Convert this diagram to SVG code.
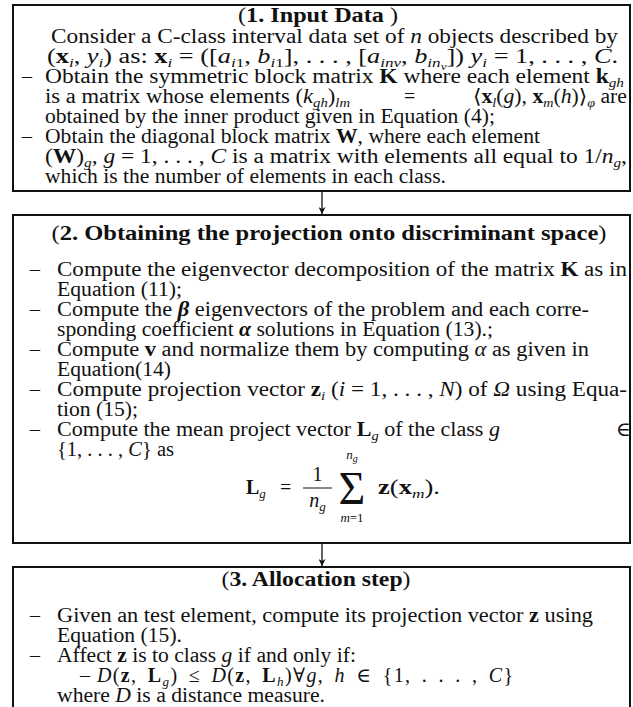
<svg xmlns="http://www.w3.org/2000/svg" width="633" height="707" viewBox="0 0 633 707">
<style>
.t{font-family:"Liberation Serif","DejaVu Serif",serif;font-size:20px;fill:#111}
.b{font-weight:bold}
.i{font-style:italic}
.s{font-size:13px;baseline-shift:-3.5px}
.ss{font-size:10px;baseline-shift:-3px}
.sm{font-size:13px}
.bx{fill:#fff;stroke:#111;stroke-width:2}
.c{stroke:#111;stroke-width:1.3;fill:none}
</style>
<defs>
<marker id="ah" viewBox="0 0 10 10" refX="10" refY="5" markerWidth="7" markerHeight="7" markerUnits="userSpaceOnUse" orient="auto">
<path d="M0,0 L10,5 L0,10 L3,5 Z" fill="#111"/>
</marker>
</defs>
<rect width="633" height="707" fill="#fff"/>

<g id="input-data">
<rect class="bx" x="13" y="5" width="617" height="186"/>
<text class="t" x="318" y="22" text-anchor="middle" textLength="160" lengthAdjust="spacingAndGlyphs">(<tspan class="b">1. Input Data</tspan> )</text>
<text class="t" x="51" y="43" textLength="567" lengthAdjust="spacingAndGlyphs">Consider a C-class interval data set of <tspan class="i">n</tspan> objects described by</text>
<text class="t" x="47" y="63" textLength="571" lengthAdjust="spacingAndGlyphs">(<tspan class="b">x</tspan><tspan class="s i">i</tspan>, <tspan class="i">y</tspan><tspan class="s i">i</tspan>) as: <tspan class="b">x</tspan><tspan class="s i">i</tspan> = ([<tspan class="i">a</tspan><tspan class="s"><tspan class="i">i</tspan>1</tspan>, <tspan class="i">b</tspan><tspan class="s"><tspan class="i">i</tspan>1</tspan>], . . . , [<tspan class="i">a</tspan><tspan class="s i">inv</tspan>, <tspan class="i">b</tspan><tspan class="s i">in<tspan class="ss">v</tspan></tspan>]) <tspan class="i">y</tspan><tspan class="s i">i</tspan> = 1, . . . , <tspan class="i">C</tspan>.</text>
<text class="t" x="22" y="83">–</text>
<text class="t" x="45" y="83" textLength="579" lengthAdjust="spacingAndGlyphs">Obtain the symmetric block matrix <tspan class="b">K</tspan> where each element <tspan class="b">k</tspan><tspan class="s i">gh</tspan></text>
<text class="t" x="45" y="103" textLength="305" lengthAdjust="spacingAndGlyphs">is a matrix whose elements (<tspan class="i">k</tspan><tspan class="s i">gh</tspan>)<tspan class="s i">lm</tspan></text>
<text class="t" x="404" y="103">=</text>
<text class="t" x="473" y="103" textLength="154" lengthAdjust="spacingAndGlyphs">⟨<tspan class="b">x</tspan><tspan class="s i">l</tspan>(<tspan class="i">g</tspan>), <tspan class="b">x</tspan><tspan class="s i">m</tspan>(<tspan class="i">h</tspan>)⟩<tspan class="s i">φ</tspan> are</text>
<text class="t" x="45" y="123" textLength="450" lengthAdjust="spacingAndGlyphs">obtained by the inner product given in Equation (4);</text>
<text class="t" x="22" y="143">–</text>
<text class="t" x="45" y="143" textLength="495" lengthAdjust="spacingAndGlyphs">Obtain the diagonal block matrix <tspan class="b">W</tspan>, where each element</text>
<text class="t" x="45" y="163" textLength="582" lengthAdjust="spacingAndGlyphs">(<tspan class="b">W</tspan>)<tspan class="s i">g</tspan>, <tspan class="i">g</tspan> = 1, . . . , <tspan class="i">C</tspan> is a matrix with elements all equal to 1/<tspan class="i">n</tspan><tspan class="s i">g</tspan>,</text>
<text class="t" x="45" y="183" textLength="401" lengthAdjust="spacingAndGlyphs">which is the number of elements in each class.</text>
</g>

<g id="projection">
<rect class="bx" x="13" y="215" width="617" height="328"/>
<text class="t" x="329" y="240" text-anchor="middle" textLength="555" lengthAdjust="spacingAndGlyphs">(<tspan class="b">2. Obtaining the projection onto discriminant space</tspan>)</text>
<text class="t" x="30" y="276">–</text>
<text class="t" x="57" y="276" textLength="570" lengthAdjust="spacingAndGlyphs">Compute the eigenvector decomposition of the matrix <tspan class="b">K</tspan> as in</text>
<text class="t" x="57" y="296" textLength="125" lengthAdjust="spacingAndGlyphs">Equation (11);</text>
<text class="t" x="30" y="316">–</text>
<text class="t" x="57" y="316" textLength="532" lengthAdjust="spacingAndGlyphs">Compute the <tspan class="b i">β</tspan> eigenvectors of the problem and each corre-</text>
<text class="t" x="57" y="336" textLength="436" lengthAdjust="spacingAndGlyphs">sponding coefficient <tspan class="b i">α</tspan> solutions in Equation (13).;</text>
<text class="t" x="30" y="356">–</text>
<text class="t" x="57" y="356" textLength="532" lengthAdjust="spacingAndGlyphs">Compute <tspan class="b">v</tspan> and normalize them by computing <tspan class="i">α</tspan> as given in</text>
<text class="t" x="57" y="376" textLength="114" lengthAdjust="spacingAndGlyphs">Equation(14)</text>
<text class="t" x="30" y="396">–</text>
<text class="t" x="57" y="396" textLength="570" lengthAdjust="spacingAndGlyphs">Compute projection vector <tspan class="b">z</tspan><tspan class="s i">i</tspan> (<tspan class="i">i</tspan> = 1, . . . , <tspan class="i">N</tspan>) of <tspan class="i">Ω</tspan> using Equa-</text>
<text class="t" x="57" y="416" textLength="81" lengthAdjust="spacingAndGlyphs">tion (15);</text>
<text class="t" x="30" y="436">–</text>
<text class="t" x="57" y="436" textLength="443" lengthAdjust="spacingAndGlyphs">Compute the mean project vector <tspan class="b">L</tspan><tspan class="s i">g</tspan> of the class <tspan class="i">g</tspan></text>
<text class="t" x="616" y="436">∈</text>
<text class="t" x="57" y="456" textLength="117" lengthAdjust="spacingAndGlyphs">{1, . . . , <tspan class="i">C</tspan>} as</text>
<text class="t" x="246" y="494"><tspan class="b">L</tspan><tspan class="s i">g</tspan></text>
<text class="t" x="280" y="494">=</text>
<text class="t" x="317.5" y="481" text-anchor="middle">1</text>
<line x1="303" y1="488" x2="332" y2="488" stroke="#111" stroke-width="1"/>
<text class="t" x="317.5" y="507" text-anchor="middle"><tspan class="i">n</tspan><tspan class="s i">g</tspan></text>
<text class="t sm" x="352" y="459" text-anchor="middle"><tspan class="i">n</tspan><tspan class="ss i">g</tspan></text>
<text class="t" x="352" y="504" text-anchor="middle" style="font-size:46px">Σ</text>
<text class="t sm" x="352" y="522" text-anchor="middle"><tspan class="i">m</tspan>=1</text>
<text class="t" x="378" y="494" textLength="62" lengthAdjust="spacingAndGlyphs"><tspan class="b">z</tspan>(<tspan class="b">x</tspan><tspan class="s i">m</tspan>).</text>
</g>

<g id="allocation">
<rect class="bx" x="13" y="567" width="617" height="150"/>
<text class="t" x="316" y="586" text-anchor="middle" textLength="189" lengthAdjust="spacingAndGlyphs">(<tspan class="b">3. Allocation step</tspan>)</text>
<text class="t" x="30" y="622">–</text>
<text class="t" x="57" y="622" textLength="536" lengthAdjust="spacingAndGlyphs">Given an test element, compute its projection vector <tspan class="b">z</tspan> using</text>
<text class="t" x="57" y="642" textLength="125" lengthAdjust="spacingAndGlyphs">Equation (15).</text>
<text class="t" x="30" y="662">–</text>
<text class="t" x="57" y="662" textLength="299" lengthAdjust="spacingAndGlyphs">Affect <tspan class="b">z</tspan> is to class <tspan class="i">g</tspan> if and only if:</text>
<text class="t" x="80" y="682">–</text>
<text class="t" x="97" y="682" textLength="416" lengthAdjust="spacing" style="word-spacing:4px"><tspan class="i">D</tspan>(<tspan class="b">z</tspan>, <tspan class="b">L</tspan><tspan class="s i">g</tspan>) ≤ <tspan class="i">D</tspan>(<tspan class="b">z</tspan>, <tspan class="b">L</tspan><tspan class="s i">h</tspan>)∀<tspan class="i">g</tspan>, <tspan class="i">h</tspan> ∈ {1, . . . , <tspan class="i">C</tspan>}</text>
<text class="t" x="57" y="702" textLength="268" lengthAdjust="spacingAndGlyphs">where <tspan class="i">D</tspan> is a distance measure.</text>
</g>

<g id="connectors">
<line class="c" x1="322" y1="192" x2="322" y2="214" marker-end="url(#ah)"/>
<line class="c" x1="322" y1="544" x2="322" y2="566" marker-end="url(#ah)"/>
</g>
</svg>
